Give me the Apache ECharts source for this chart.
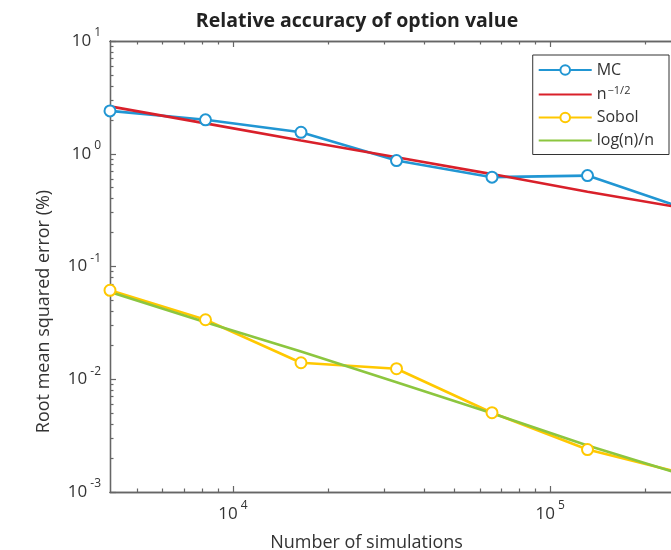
<!DOCTYPE html>
<html lang="en">
<head>
    <meta charset="UTF-8">
    <title>Relative accuracy of option value</title>
</head>
<body style="margin:0">
    <div id="main" style="width: 671px;height:550px;"></div>
    <script src="https://cdn.jsdelivr.net/npm/echarts@6/dist/echarts.min.js"></script>
    <script type="text/javascript">
        var myChart = echarts.init(document.getElementById('main'));

        // data
        var nSims = [4096, 8192, 16384, 32768, 65536, 131072, 262144];
        var mcErr = [2.40, 2.00, 1.55, 0.87, 0.62, 0.64, 0.33];
        var halfRate = [2.63, 1.86, 1.31, 0.93, 0.66, 0.46, 0.33];
        var sobolErr = [0.0615, 0.0337, 0.0140, 0.0124, 0.00505, 0.00238, 0.00146];
        var lognRate = [0.0593, 0.0321, 0.0176, 0.0094, 0.0050, 0.00259, 0.00142];
        var xDecades = [4, 5];
        var yDecades = [-3, -2, -1, 0, 1];

        var FONT = 'Open Sans';
        var AXIS_COLOR = '#666';
        var TEXT_COLOR = '#333';

        // minor ticks at 2..9 x 10^d (log positions)
        function minorTicks(d0, d1) {
            var out = [];
            for (var d = d0; d <= d1; d++) {
                for (var k = 2; k <= 9; k++) out.push(Math.log10(k * Math.pow(10, d)));
            }
            return out;
        }

        function pairs(ys) {
            return nSims.map(function (n, i) { return [Math.log10(n), Math.log10(ys[i])]; });
        }

        var powRich = {
            b: { fontFamily: FONT, fontSize: 17, color: TEXT_COLOR },
            s: { fontFamily: FONT, fontSize: 12, color: TEXT_COLOR, padding: [0, 0, 16, 3] }
        };
        var powLabel = function (v) { return '{b|10}{s|' + Math.round(v) + '}'; };

        var xMin = Math.log10(nSims[0]), xMax = Math.log10(nSims[nSims.length - 1]);

        function xAxisCfg(pos, ticks, len, labels) {
            return {
                type: 'value', position: pos, min: xMin, max: xMax,
                axisLine: { show: true, onZero: false, lineStyle: { color: AXIS_COLOR, width: 1.3 } },
                axisTick: { show: true, inside: true, length: len, customValues: ticks, lineStyle: { color: AXIS_COLOR, width: 1.2 } },
                axisLabel: labels ? { show: true, customValues: xDecades, formatter: powLabel, rich: powRich, margin: 8 } : { show: false },
                splitLine: { show: false }
            };
        }
        function yAxisCfg(ticks, len, labels) {
            return {
                type: 'value', position: 'left', min: -3, max: 1,
                axisLine: { show: true, onZero: false, lineStyle: { color: AXIS_COLOR, width: 1.3 } },
                axisTick: { show: true, inside: true, length: len, customValues: ticks, lineStyle: { color: AXIS_COLOR, width: 1.2 } },
                axisLabel: labels ? { show: true, customValues: yDecades, formatter: powLabel, rich: powRich, margin: 9 } : { show: false },
                splitLine: { show: false }
            };
        }

        var xMain = xAxisCfg('bottom', xDecades, 6, true);
        xMain.name = 'Number of simulations';
        xMain.nameLocation = 'middle';
        xMain.nameGap = 42;
        xMain.nameTextStyle = { fontFamily: FONT, fontSize: 18, color: TEXT_COLOR, padding: [0, 60, 0, 0] };

        var yMain = yAxisCfg(yDecades, 6, true);
        yMain.name = 'Root mean squared error (%)';
        yMain.nameLocation = 'middle';
        yMain.nameGap = 57;
        yMain.nameTextStyle = { fontFamily: FONT, fontSize: 18, color: TEXT_COLOR, padding: [0, 90, 0, 0] };

        var legendNames = { 'n^{-1/2}': '{t|n}{s|\u22121/2}' };

        function lineSeries(name, ys, color, marker) {
            return {
                type: 'line', name: name, data: pairs(ys),
                xAxisIndex: 0, yAxisIndex: 0,
                symbol: marker ? 'emptyCircle' : 'none',
                symbolSize: 11,
                showSymbol: marker,
                lineStyle: { color: color, width: 2.6 },
                itemStyle: { color: color, borderWidth: 2.4, opacity: marker ? 1 : 0 },
                clip: false,
                animation: false
            };
        }

        var option = {
            animation: false,
            title: {
                text: 'Relative accuracy of option value',
                left: 352, top: 6, textAlign: 'center',
                textStyle: { fontFamily: FONT, fontSize: 19.5, fontWeight: 'bold', color: '#222' }
            },
            grid: { left: 110, width: 573, top: 41, bottom: 58, containLabel: false, outerBoundsMode: 'none' },
            legend: {
                orient: 'vertical', right: 2, top: 55,
                itemWidth: 53, itemHeight: 12, itemGap: 7,
                padding: [7, 15, 6, 5],
                backgroundColor: '#fff', borderColor: '#333', borderWidth: 1,
                formatter: function (n) { return legendNames[n] || n; },
                textStyle: {
                    fontFamily: FONT, fontSize: 16, color: TEXT_COLOR,
                    rich: {
                        t: { fontFamily: FONT, fontSize: 16, color: TEXT_COLOR },
                        s: { fontFamily: FONT, fontSize: 11, color: TEXT_COLOR, padding: [0, 0, 8, 1] }
                    }
                }
            },
            xAxis: [
                xMain,
                xAxisCfg('bottom', minorTicks(3, 5), 3.5, false),
                xAxisCfg('top', xDecades, 6, false),
                xAxisCfg('top', minorTicks(3, 5), 3.5, false)
            ],
            yAxis: [
                yMain,
                yAxisCfg(minorTicks(-3, 0), 3.5, false)
            ],
            series: [
                lineSeries('MC', mcErr, '#2196d3', true),
                lineSeries('n^{-1/2}', halfRate, '#d9202a', false),
                lineSeries('Sobol', sobolErr, '#ffc800', true),
                lineSeries('log(n)/n', lognRate, '#8cc63f', false)
            ]
        };

        myChart.setOption(option);
    </script>
</body>
</html>
